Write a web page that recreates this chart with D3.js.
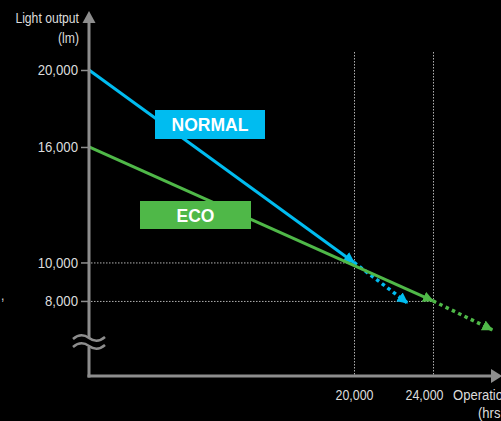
<!DOCTYPE html>
<html>
<head>
<meta charset="utf-8">
<script src="https://cdn.jsdelivr.net/npm/d3@7"></script>
<style>
  html, body { margin: 0; padding: 0; background: #000; }
  svg { display: block; }
</style>
</head>
<body>
<div id="chart"></div>
<script>
// data
const yTicks = [8000, 10000, 16000, 20000];
const xTicks = [20000, 24000];
const refPoints = [[20000, 10000], [24000, 8000]];
const normalSolid = [[0, 20000], [20000, 10000]];
const normalDotted = [[20000, 10000], [22700, 7900]];
const ecoSolid = [[0, 16000], [24000, 8000]];
const ecoDotted = [[24000, 8000], [27000, 6500]];
const seriesLabels = ['NORMAL', 'ECO'];

const width = 501, height = 421;
const blue = '#00bcf0', green = '#4fb848', axisGrey = '#8d8d8d', textGrey = '#dcdcdc';
const font = "'Liberation Sans', Arial, sans-serif";

const svg = d3.select('#chart').append('svg')
  .attr('width', width)
  .attr('height', height)
  .style('background', '#000');

// squeeze text horizontally around its own anchor so it reads like a condensed face
function condense(sel, k) {
  sel.each(function () {
    const ax = +this.getAttribute('x') || 0;
    d3.select(this).attr('transform', `translate(${ax},0) scale(${k},1) translate(${-ax},0)`);
  });
}

// schematic hour axis: piecewise so the marked hours land where drawn
const x = d3.scaleLinear().domain([0, 20000, 24000]).range([89, 354, 433]);
const y = d3.scaleLinear().domain([4100, 20000]).range([376, 70]);
const gridTop = 52;

const defs = svg.append('defs');
function arrow(id, color, len, half) {
  defs.append('marker')
    .attr('id', id)
    .attr('markerUnits', 'userSpaceOnUse')
    .attr('viewBox', `0 ${-half} ${len} ${half * 2}`)
    .attr('refX', len - 1)
    .attr('refY', 0)
    .attr('markerWidth', len)
    .attr('markerHeight', half * 2)
    .attr('orient', 'auto')
    .append('path')
    .attr('d', `M0,${-half}L${len},0L0,${half}Z`)
    .attr('fill', color);
}
arrow('arBlue', blue, 11, 5.5);
arrow('arGreen', green, 11, 5.5);

// reference grid (dotted)
const grid = svg.append('g')
  .attr('stroke', '#b0b0b0')
  .attr('stroke-width', 1)
  .attr('stroke-dasharray', '1.5,1.5')
  .attr('fill', 'none');
grid.selectAll('line.v')
  .data(refPoints)
  .join('line')
  .attr('class', 'v')
  .attr('x1', d => x(d[0]) + 0.5).attr('x2', d => x(d[0]) + 0.5)
  .attr('y1', gridTop).attr('y2', y.range()[0]);
grid.selectAll('line.h')
  .data(refPoints)
  .join('line')
  .attr('class', 'h')
  .attr('x1', x(0) + 2).attr('x2', d => x(d[0]))
  .attr('y1', d => y(d[1]) + 0.5).attr('y2', d => y(d[1]) + 0.5);

// series lines
const line = d3.line().x(d => x(d[0])).y(d => y(d[1]));
const series = [
  { pts: normalSolid, color: blue, dotted: false, marker: 'arBlue' },
  { pts: normalDotted, color: blue, dotted: true, marker: 'arBlue' },
  { pts: ecoSolid, color: green, dotted: false, marker: 'arGreen' },
  { pts: ecoDotted, color: green, dotted: true, marker: 'arGreen' }
];
svg.append('g').selectAll('path')
  .data(series)
  .join('path')
  .attr('d', d => line(d.pts))
  .attr('fill', 'none')
  .attr('stroke', d => d.color)
  .attr('stroke-width', d => d.dotted ? 3.5 : 3)
  .attr('stroke-dasharray', d => d.dotted ? '3.5,3.5' : null)
  .attr('marker-end', d => `url(#${d.marker})`);

// label boxes
const boxes = [
  { text: seriesLabels[0], color: blue, x: 155, y: 110, w: 110, h: 29 },
  { text: seriesLabels[1], color: green, x: 140, y: 201, w: 111, h: 28 }
];
const bg = svg.append('g').selectAll('g')
  .data(boxes)
  .join('g');
bg.append('rect')
  .attr('x', d => d.x).attr('y', d => d.y)
  .attr('width', d => d.w).attr('height', d => d.h)
  .attr('fill', d => d.color);
bg.append('text')
  .attr('x', d => d.x + d.w / 2)
  .attr('y', d => d.y + d.h / 2 + 6.5)
  .attr('text-anchor', 'middle')
  .attr('fill', '#fff')
  .attr('font-family', font)
  .attr('font-weight', 'bold')
  .attr('font-size', 17.5)
  .text(d => d.text);

// y axis
const yAxis = svg.append('g')
  .attr('transform', `translate(${x(0)},0)`)
  .call(d3.axisLeft(y).tickValues(yTicks).tickFormat(d3.format(',')).tickSize(8).tickPadding(3));
yAxis.select('.domain').remove();
yAxis.selectAll('.tick line').attr('stroke', axisGrey).attr('stroke-width', 1.5);
yAxis.selectAll('.tick text')
  .attr('fill', textGrey)
  .attr('font-family', font)
  .attr('font-size', 15)
  .call(condense, 0.88);

// x axis
const xAxis = svg.append('g')
  .attr('transform', `translate(0,${y.range()[0]})`)
  .call(d3.axisBottom(x).tickValues(xTicks).tickFormat(d3.format(',')).tickSize(0).tickPadding(13));
xAxis.select('.domain').remove();
xAxis.selectAll('.tick text')
  .attr('fill', textGrey)
  .attr('font-family', font)
  .attr('font-size', 15)
  .attr('x', (d, i) => i === xTicks.length - 1 ? -9 : 0)   // last label sits left of its line
  .call(condense, 0.83);

// axis lines with arrow heads
const ax = svg.append('g').attr('stroke', axisGrey).attr('stroke-width', 3).attr('fill', 'none');
const x0 = x(0), yb = y.range()[0];
ax.append('line').attr('x1', x0).attr('x2', x0).attr('y1', yb + 1.5).attr('y2', 20);
ax.append('line').attr('x1', x0 - 1.5).attr('x2', 493).attr('y1', yb).attr('y2', yb);
svg.append('path')
  .attr('d', `M${x0},11L${x0 + 6.5},23L${x0 - 6.5},23Z`)
  .attr('fill', axisGrey);
svg.append('path')
  .attr('d', `M502,${yb}L491,${yb - 7}L491,${yb + 7}Z`)
  .attr('fill', axisGrey);

// axis break
svg.append('rect')
  .attr('x', x0 - 4).attr('y', 338).attr('width', 8).attr('height', 9)
  .attr('fill', '#000');
svg.append('g')
  .attr('stroke', axisGrey).attr('stroke-width', 2.5).attr('fill', 'none')
  .selectAll('path')
  .data([338, 346])
  .join('path')
  .attr('d', d => `M73,${d + 1}q8,-7 16,-1t16,-1`);

// axis titles
const titles = svg.append('g')
  .attr('fill', textGrey)
  .attr('font-family', font);
titles.append('text').attr('x', 79).attr('y', 23).attr('font-size', 14).attr('text-anchor', 'end').text('Light output');
titles.append('text').attr('x', 79).attr('y', 43).attr('font-size', 14).attr('text-anchor', 'end').text('(lm)');
titles.append('text').attr('x', 453).attr('y', 400).attr('font-size', 15).text('Operation');
titles.append('text').attr('x', 478).attr('y', 418).attr('font-size', 15).text('(hrs.)');
titles.append('text').attr('x', 1).attr('y', 300).attr('font-size', 14).text(',');
titles.selectAll('text').call(condense, 0.87);
</script>
</body>
</html>
